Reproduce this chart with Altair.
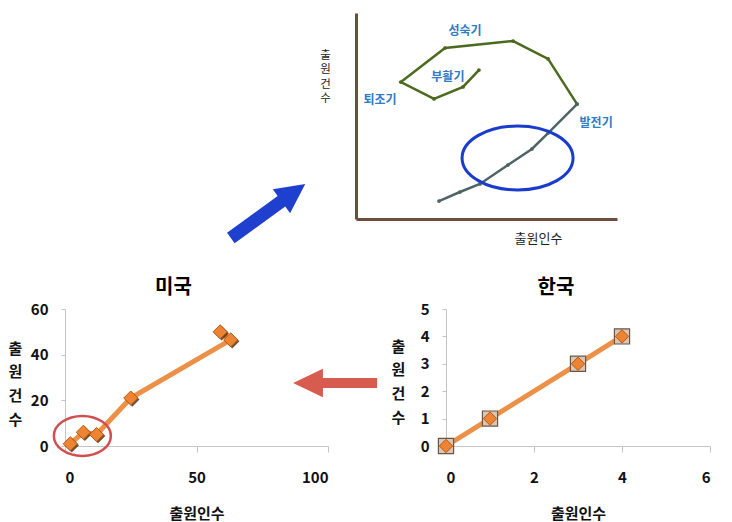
import altair as alt
import pandas as pd

FONT = "Noto Sans CJK KR"

# ---------------- data ----------------
# top diagram (abstract units 0-100): development path and later cycle
dev_x = [31.8, 39.8, 47.5, 58.2, 67.4, 73.6, 84.7]
dev_y = [8.7, 13.1, 17.0, 26.2, 34.0, 41.7, 55.8]
cyc_x = [84.7, 73.6, 60.2, 34.1, 17.2, 29.9, 41.0, 47.1]
cyc_y = [55.8, 77.7, 86.4, 83.0, 66.5, 58.3, 64.1, 72.3]
stage_labels = ["성숙기", "부활기", "퇴조기", "발전기"]
stage_x = [41.8, 35.2, 9.2, 92.0]
stage_y = [91.3, 68.9, 57.8, 46.6]
focus_x = [61.9]
focus_y = [29.6]
blue_arrow_x = [-33.7]
blue_arrow_y = [3.9]

# 미국
us_x = [2, 7, 12, 25, 63, 59]
us_y = [1, 6, 5, 21, 46.5, 50]
us_circle_x = [6.6]
us_circle_y = [4.4]
red_arrow_x = [102.7]
red_arrow_y = [27.6]

# 한국
kr_x = [0, 1, 3, 4]
kr_y = [0, 1, 3, 4]

us_x_ticks = [0, 50, 100]
us_y_ticks = [0, 20, 40, 60]
kr_x_ticks = [0, 2, 4, 6]
kr_y_ticks = [0, 1, 2, 3, 4, 5]

# ---------------- shapes (style) ----------------
BLUE_ARROW = "M -1 -0.14 L 0.36 -0.14 L 0.36 -0.32 L 1 0 L 0.36 0.32 L 0.36 0.14 L -1 0.14 Z"
RED_ARROW = "M -1 -0.12 L 0.29 -0.12 L 0.29 -0.34 L 1 0 L 0.29 0.34 L 0.29 0.12 L -1 0.12 Z"
ELLIPSE_BLUE = "M -1 0 A 1 0.577 0 1 1 1 0 A 1 0.577 0 1 1 -1 0 Z"
ELLIPSE_RED = "M -1 0 A 1 0.7 0 1 1 1 0 A 1 0.7 0 1 1 -1 0 Z"

BROWN = "#6b4f3c"
GRAY = "#c4c4c4"
ORANGE = "#EE8433"
LINE_ORANGE = "#EB8A3E"

TOP_W = 644      # top row panel width (same span as the two lower charts)
DIAG_X0 = 291    # left edge of the diagram axes inside the top panel
DIAG_X1 = 552    # right end of the diagram x axis
TOP_H = 206

# ---------------- top diagram ----------------
dxs = alt.Scale(domain=[0, 100], range=[DIAG_X0, DIAG_X1], nice=False, zero=False)
dys = alt.Scale(domain=[0, 100], nice=False, zero=False)

diag_df = pd.DataFrame({
    "x": dev_x + cyc_x,
    "y": dev_y + cyc_y,
    "seg": ["발전"] * len(dev_x) + ["순환"] * len(cyc_x),
    "ord": list(range(len(dev_x))) + list(range(len(cyc_x))),
})
seg_color = alt.Color("seg:N", scale=alt.Scale(domain=["발전", "순환"], range=["#4f6464", "#4b6a1d"]), legend=None)
dx_axis = alt.Axis(title="출원인수", labels=False, ticks=False, grid=False,
                   domainColor=BROWN, domainWidth=3,
                   titleFont=FONT, titleFontSize=13, titleFontWeight="normal", titleColor="#222",
                   titleX=473, titleY=19, titleAlign="center", titleBaseline="middle")
dy_axis = alt.Axis(title=["출", "원", "건", "수"], labels=False, ticks=False, grid=False,
                   domainColor=BROWN, domainWidth=3, offset=-DIAG_X0,
                   titleFont=FONT, titleFontSize=11.5, titleFontWeight="normal", titleColor="#222",
                   titleAngle=0, titleX=-31, titleY=42, titleLineHeight=14.6,
                   titleAlign="center", titleBaseline="middle")
dbase = alt.Chart(diag_df).encode(
    x=alt.X("x:Q", scale=dxs, axis=dx_axis),
    y=alt.Y("y:Q", scale=dys, axis=dy_axis),
    color=seg_color,
    order="ord:Q",
)
d_lines = dbase.mark_line(strokeWidth=2.5)
d_pts = dbase.mark_point(filled=True, size=14, opacity=1)
lab_df = pd.DataFrame({"x": stage_x, "y": stage_y, "t": stage_labels})
d_text = alt.Chart(lab_df).mark_text(font=FONT, fontSize=12, fontWeight="bold", color="#2f7bc4").encode(
    x="x:Q", y="y:Q", text="t:N")
focus_df = pd.DataFrame({"x": focus_x, "y": focus_y})
d_focus = alt.Chart(focus_df).mark_point(shape=ELLIPSE_BLUE, filled=False, stroke="#1a3ccc",
                                         strokeWidth=3, size=12321, opacity=1).encode(x="x:Q", y="y:Q")
arrow_df = pd.DataFrame({"x": blue_arrow_x, "y": blue_arrow_y})
d_arrow = alt.Chart(arrow_df).mark_point(
    shape=BLUE_ARROW, filled=True, fill="#1f3fcf", strokeWidth=0, opacity=1, size=8464, angle=324,
).encode(x="x:Q", y="y:Q")
top = alt.layer(d_lines, d_pts, d_text, d_focus, d_arrow).properties(width=TOP_W, height=TOP_H)


# ---------------- scatter charts ----------------
def y_title_axis(values, tx, ty):
    return alt.Axis(values=values, title=["출", "원", "건", "수"], titleAngle=0, titleX=tx, titleY=ty,
                    titleLineHeight=23.7, titleAlign="center", titleBaseline="middle",
                    tickSize=4, labelPadding=13, format="d")


def x_title_axis(values, w):
    return alt.Axis(values=values, title="출원인수", titleX=w / 2, titleY=67,
                    titleAlign="center", titleBaseline="middle",
                    tickSize=6, labelPadding=18, format="d")


us_df = pd.DataFrame({"x": us_x, "y": us_y, "ord": list(range(len(us_x)))})
usx = alt.Scale(domain=[0, 100], nice=False, zero=False)
usy = alt.Scale(domain=[0, 60], nice=False, zero=False)
ubase = alt.Chart(us_df).encode(
    x=alt.X("x:Q", scale=usx, axis=x_title_axis(us_x_ticks, 263)),
    y=alt.Y("y:Q", scale=usy, axis=y_title_axis(us_y_ticks, -50, 39)),
    order="ord:Q",
)
u_line = ubase.mark_line(color=LINE_ORANGE, strokeWidth=5, opacity=0.95)
u_shadow = ubase.mark_point(shape="diamond", filled=True, color="#5a3410", size=210, opacity=0.85,
                            xOffset=1.5, yOffset=1.5)
u_pts = ubase.mark_point(shape="diamond", filled=True, fill=ORANGE, stroke="#b35b18", strokeWidth=1,
                         size=200, opacity=1)
uc_df = pd.DataFrame({"x": us_circle_x, "y": us_circle_y})
u_circle = alt.Chart(uc_df).mark_point(shape=ELLIPSE_RED, filled=False, stroke="#d24f4f", strokeWidth=2.5,
                                       size=3249, opacity=1).encode(x="x:Q", y="y:Q")
ra_df = pd.DataFrame({"x": red_arrow_x, "y": red_arrow_y})
u_arrow = alt.Chart(ra_df).mark_point(shape=RED_ARROW, filled=True, fill="#d75b4e", strokeWidth=0, opacity=1,
                                      size=7056, angle=180).encode(x="x:Q", y="y:Q")
usa = alt.layer(u_line, u_shadow, u_pts, u_circle, u_arrow).properties(
    width=263, height=137,
    title=alt.TitleParams("미국", font=FONT, fontSize=20, fontWeight="bold", anchor="middle", dx=-23, offset=4),
)

kr_df = pd.DataFrame({"x": kr_x, "y": kr_y, "ord": list(range(len(kr_x)))})
krx = alt.Scale(domain=[0, 6], nice=False, zero=False)
kry = alt.Scale(domain=[0, 5], nice=False, zero=False)
kbase = alt.Chart(kr_df).encode(
    x=alt.X("x:Q", scale=krx, axis=x_title_axis(kr_x_ticks, 264)),
    y=alt.Y("y:Q", scale=kry, axis=y_title_axis(kr_y_ticks, -48, 37)),
    order="ord:Q",
)
k_line = kbase.mark_line(color=LINE_ORANGE, strokeWidth=5, opacity=0.95)
k_sq = kbase.mark_point(shape="square", filled=True, fill="#d9c7b5", stroke="#6b5646", strokeWidth=1.2,
                        size=230, opacity=1)
k_pts = kbase.mark_point(shape="diamond", filled=True, fill=ORANGE, stroke="#b35b18", strokeWidth=1,
                         size=180, opacity=1)
korea = alt.layer(k_line, k_sq, k_pts).properties(
    width=264, height=137,
    title=alt.TitleParams("한국", font=FONT, fontSize=20, fontWeight="bold", anchor="middle", dx=-22, offset=4),
)

bottom = alt.hconcat(usa, korea, spacing=118, bounds="flush")

chart = alt.vconcat(top, bottom, spacing=90, bounds="flush").properties(
    padding={"left": 8, "top": 13, "right": 0, "bottom": 2},
    background="white",
).configure_view(strokeWidth=0).configure_axis(
    grid=False, domainColor=GRAY, tickColor=GRAY,
    labelFont=FONT, labelFontSize=15, labelFontWeight="bold", labelColor="#111",
    titleFont=FONT, titleFontSize=15, titleFontWeight="bold", titleColor="#111",
)

chart.save("out.html", embed_options={"renderer": "svg", "actions": False})
